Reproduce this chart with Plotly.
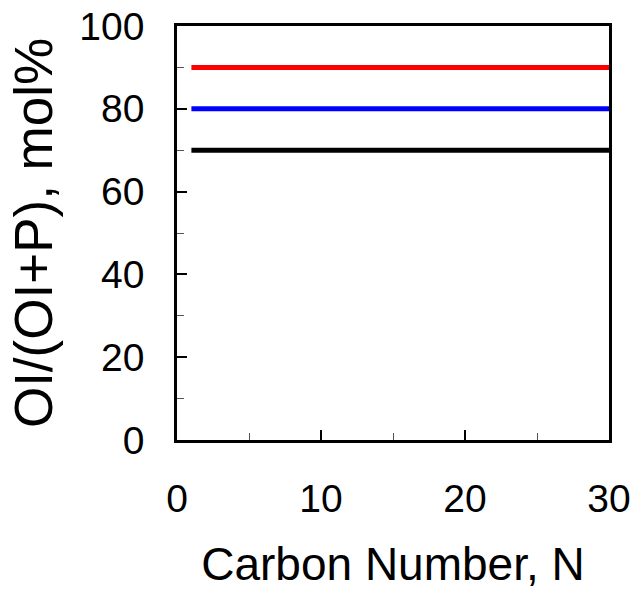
import plotly.graph_objects as go

carbon_number = list(range(1, 31))
red_values = [90, 90, 90, 90, 90, 90, 90, 90, 90, 90,
              90, 90, 90, 90, 90, 90, 90, 90, 90, 90,
              90, 90, 90, 90, 90, 90, 90, 90, 90, 90]
blue_values = [80, 80, 80, 80, 80, 80, 80, 80, 80, 80,
               80, 80, 80, 80, 80, 80, 80, 80, 80, 80,
               80, 80, 80, 80, 80, 80, 80, 80, 80, 80]
black_values = [70, 70, 70, 70, 70, 70, 70, 70, 70, 70,
                70, 70, 70, 70, 70, 70, 70, 70, 70, 70,
                70, 70, 70, 70, 70, 70, 70, 70, 70, 70]

x_ticks = [0, 10, 20, 30]
y_ticks = [0, 20, 40, 60, 80, 100]

FONT = "Arial, Liberation Sans, sans-serif"

fig = go.Figure()
for vals, col in [(black_values, "#000000"), (blue_values, "#0000FF"), (red_values, "#FF0000")]:
    fig.add_trace(go.Scatter(x=carbon_number, y=vals, mode="lines",
                             line=dict(color=col, width=5),
                             showlegend=False, cliponaxis=False, hoverinfo="skip"))

fig.update_layout(
    width=635, height=590,
    margin=dict(l=177, r=26, t=26, b=150, autoexpand=False),
    paper_bgcolor="white", plot_bgcolor="white",
    font=dict(family=FONT, color="black"),
    showlegend=False,
)
fig.update_xaxes(
    range=[0, 30], tickvals=x_ticks, ticks="inside", ticklen=10, tickwidth=1.5,
    tickcolor="black", showgrid=False, zeroline=False, automargin=False,
    showline=True, linecolor="black", linewidth=2.5, mirror=True,
    tickfont=dict(size=39, family=FONT), ticklabelstandoff=22,
    minor=dict(dtick=5, ticks="inside", ticklen=7, tickwidth=1, tickcolor="#555555", showgrid=False),
    title=dict(text="Carbon Number, N", font=dict(size=46, family=FONT), standoff=31),
)
fig.update_yaxes(
    range=[0, 100], tickvals=y_ticks, ticks="inside", ticklen=10, tickwidth=1.5,
    tickcolor="black", showgrid=False, zeroline=False, automargin=False,
    showline=True, linecolor="black", linewidth=2.5, mirror=True,
    tickfont=dict(size=39, family=FONT), ticklabelstandoff=22,
    minor=dict(dtick=10, ticks="inside", ticklen=7, tickwidth=1, tickcolor="#555555", showgrid=False),
    title=dict(text="OI/(OI+P), mol%", font=dict(size=53, family=FONT), standoff=10),
)

fig.write_html(
    "out.html",
    config={"displayModeBar": False},
    post_script="document.body.style.margin='0px';document.body.style.overflow='hidden';",
)
